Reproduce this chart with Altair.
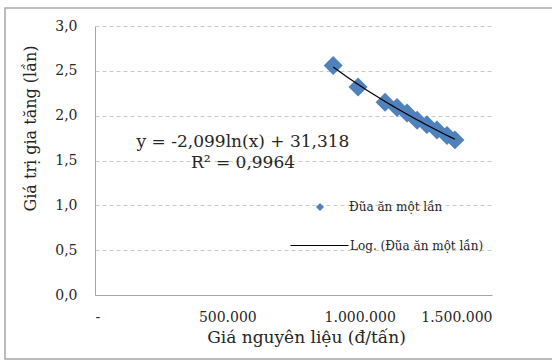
import altair as alt
import pandas as pd

# Data
price = [900000, 994000, 1096000, 1141000, 1179000, 1217000, 1254000, 1292000, 1330000, 1360000]
value = [2.56, 2.32, 2.15, 2.09, 2.03, 1.95, 1.90, 1.84, 1.78, 1.73]
series_name = "Đũa ăn một lần"
trend_name = "Log. (Đũa ăn một lần)"
x_ticks = [0, 500000, 1000000, 1500000]
y_ticks = [0.0, 0.5, 1.0, 1.5, 2.0, 2.5, 3.0]
eq_text = "y = -2,099ln(x) + 31,318"
r2_text = "R² = 0,9964"

df = pd.DataFrame({"x": price, "y": value, "series": [series_name] * len(price)})

FONT = "DejaVu Serif"
BLUE = "#4f81bd"
TXT = "#262626"

xscale = alt.Scale(domain=[0, 1500000], nice=False, zero=True)
yscale = alt.Scale(domain=[0, 3], nice=False)

xaxis = alt.Axis(
    values=x_ticks,
    labelExpr="datum.value == 0 ? '-' : replace(format(datum.value, ','), regexp(',', 'g'), '.')",
    grid=False, ticks=False, labelPadding=15, labelFont=FONT, labelFontSize=14, labelColor=TXT,
    title="Giá nguyên liệu (đ/tấn)", titleFont=FONT, titleFontSize=17, titleFontWeight="normal",
    titleColor=TXT, titlePadding=5, titleX=211, domainColor="#a6a6a6",
)
yaxis = alt.Axis(
    values=y_ticks,
    labelExpr="replace(format(datum.value, '.1f'), '.', ',')",
    grid=True, gridDash=[4, 3], gridColor="#c8c8c8", ticks=False, labelPadding=18,
    labelFont=FONT, labelFontSize=14, labelColor=TXT,
    title="Giá trị gia tăng (lần)", titleFont=FONT, titleFontSize=16, titleFontWeight="normal",
    titleColor=TXT, titlePadding=16, titleY=102, domainColor="#a6a6a6",
)

base = alt.Chart(df)

points = base.mark_point(filled=True, opacity=1, size=360).encode(
    x=alt.X("x:Q", scale=xscale, axis=xaxis),
    y=alt.Y("y:Q", scale=yscale, axis=yaxis),
    color=alt.value(BLUE),
    shape=alt.Shape(
        "series:N",
        scale=alt.Scale(range=["diamond"]),
        legend=alt.Legend(
            title=None, orient="none", legendX=219, legendY=175, padding=0,
            symbolSize=64, symbolFillColor=BLUE, symbolStrokeColor=BLUE, labelOffset=23,
            labelFont=FONT, labelFontSize=12, labelColor=TXT,
        ),
    ),
)

trend = base.transform_regression("x", "y", method="log").transform_calculate(
    name=f"'{trend_name}'"
).mark_line(strokeWidth=1.2).encode(
    x=alt.X("x:Q", scale=xscale),
    y=alt.Y("y:Q", scale=yscale),
    color=alt.Color(
        "name:N",
        scale=alt.Scale(range=["black"]),
        legend=alt.Legend(
            title=None, orient="none", legendX=195, legendY=190, padding=0,
            symbolType="stroke", symbolSize=3364, symbolStrokeWidth=1, labelOffset=1,
            labelFont=FONT, labelFontSize=12, labelColor=TXT,
        ),
    ),
)

eq = alt.Chart(pd.DataFrame({"t": [eq_text]})).mark_text(
    font=FONT, fontSize=17, color=TXT, align="center", baseline="alphabetic"
).encode(text="t:N", x=alt.value(148), y=alt.value(121))

r2 = alt.Chart(pd.DataFrame({"t": [r2_text]})).mark_text(
    font=FONT, fontSize=17, color=TXT, align="center", baseline="alphabetic"
).encode(text="t:N", x=alt.value(148), y=alt.value(142))

frame = alt.Chart(pd.DataFrame({"a": [0]})).mark_rect(
    fill=None, stroke="#a6a6a6", strokeWidth=1.5
).encode(x=alt.value(-90), x2=alt.value(462), y=alt.value(-18), y2=alt.value(333))

chart = alt.layer(frame, points, trend, eq, r2).properties(
    width=397, height=269, autosize="none",
    padding={"left": 95, "top": 26, "right": 60, "bottom": 66},
    background="white",
).configure_view(strokeWidth=0)

chart.save("out.html", embed_options={"renderer": "svg", "actions": False})
